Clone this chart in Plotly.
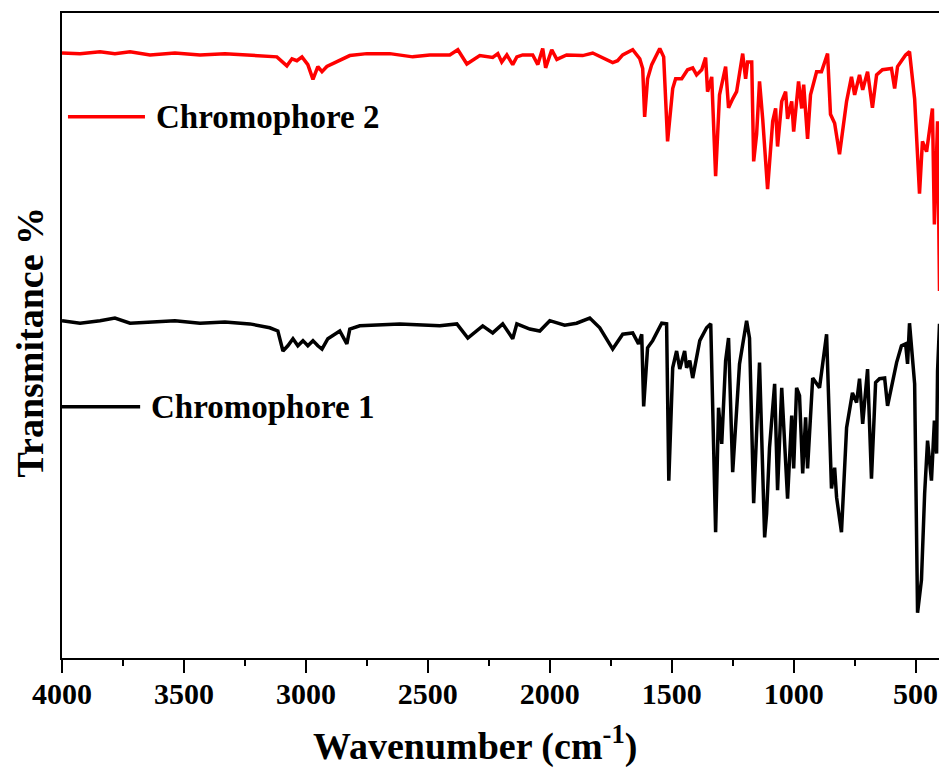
import plotly.graph_objects as go

# ---- data (wavenumber cm^-1, transmittance a.u.) ----
wn_c2 = [4000, 3926, 3844, 3783, 3721, 3639, 3537, 3434, 3332, 3230, 3119, 3078, 3057, 3037, 3016,
         2992, 2971, 2951, 2934, 2914, 2873, 2820, 2750, 2656, 2562, 2492, 2410, 2377, 2340, 2287,
         2234, 2213, 2197, 2176, 2152, 2135, 2111, 2070, 2049, 2029, 2017, 1992, 1971, 1931, 1865,
         1824, 1742, 1722, 1701, 1660, 1631, 1619, 1611, 1599, 1582, 1549, 1533, 1517, 1496, 1484,
         1459, 1435, 1414, 1398, 1377, 1361, 1353, 1336, 1320, 1304, 1279, 1267, 1250, 1234, 1209,
         1197, 1189, 1172, 1164, 1152, 1140, 1127, 1107, 1086, 1074, 1066, 1049, 1033, 1025, 1008,
         1000, 980, 967, 959, 943, 931, 906, 886, 861, 849, 832, 812, 783, 763, 750,
         730, 717, 697, 677, 660, 636, 599, 586, 574, 554, 541, 525, 504, 484, 472,
         455, 443, 431, 423, 414, 410, 406, 402]
t_c2 = [93.8, 93.7, 94.0, 93.7, 94.0, 93.5, 93.8, 93.5, 93.7, 93.5, 93.2, 91.8, 92.9, 92.6, 93.2,
        92.0, 89.7, 91.7, 90.9, 91.7, 92.4, 93.4, 93.7, 93.7, 93.2, 93.5, 93.5, 94.3, 92.1, 93.4,
        93.1, 93.7, 92.4, 93.5, 92.0, 93.2, 93.5, 93.5, 92.0, 94.5, 91.5, 94.3, 92.8, 93.5, 93.4,
        93.8, 92.3, 92.6, 93.5, 94.3, 92.9, 91.4, 83.9, 89.8, 92.0, 94.5, 93.2, 80.1, 88.3, 89.8,
        89.8, 91.2, 91.5, 90.4, 91.2, 93.1, 87.8, 90.1, 74.7, 87.3, 91.7, 85.3, 86.7, 87.8, 93.7,
        89.8, 92.4, 92.4, 77.0, 81.2, 89.4, 83.6, 72.7, 83.2, 85.2, 79.3, 86.3, 87.8, 83.6, 86.3,
        81.6, 89.4, 85.2, 88.9, 80.5, 87.3, 90.9, 90.9, 93.7, 84.3, 82.9, 78.1, 86.3, 90.1, 87.3,
        90.4, 88.1, 90.9, 85.3, 90.4, 91.2, 91.4, 88.3, 91.7, 92.8, 93.5, 94.0, 86.7, 72.0, 80.1,
        78.5, 81.6, 85.2, 67.2, 81.6, 83.2, 70.8, 56.9]

wn_c1 = [4000, 3926, 3844, 3783, 3721, 3639, 3537, 3434, 3332, 3230, 3148, 3115, 3094, 3074, 3053,
         3033, 3012, 2992, 2971, 2951, 2934, 2910, 2861, 2832, 2820, 2779, 2615, 2451, 2381, 2336,
         2275, 2234, 2193, 2152, 2135, 2082, 2041, 2000, 1939, 1890, 1836, 1795, 1742, 1701, 1660,
         1636, 1623, 1615, 1599, 1578, 1541, 1521, 1512, 1496, 1480, 1467, 1447, 1439, 1426, 1414,
         1385, 1357, 1340, 1320, 1308, 1295, 1279, 1267, 1250, 1222, 1193, 1181, 1164, 1140, 1127,
         1119, 1111, 1099, 1078, 1066, 1049, 1025, 1008, 1000, 988, 976, 963, 951, 943, 922,
         894, 865, 845, 832, 824, 804, 783, 759, 742, 730, 717, 697, 681, 664, 648,
         627, 615, 595, 578, 558, 541, 533, 525, 504, 492, 476, 463, 451, 435, 423,
         414, 410, 402]
t_c1 = [52.3, 51.9, 52.3, 52.7, 51.9, 52.1, 52.3, 51.9, 52.1, 51.8, 51.2, 50.7, 47.6, 48.4, 49.5,
        48.4, 49.2, 48.4, 49.2, 48.4, 47.9, 49.5, 50.7, 48.7, 51.0, 51.5, 51.8, 51.5, 51.8, 49.6,
        51.5, 50.4, 51.8, 49.5, 51.8, 51.0, 50.7, 52.3, 51.6, 51.9, 52.7, 51.2, 47.9, 50.2, 50.4,
        48.7, 50.2, 39.0, 48.1, 49.2, 51.9, 51.8, 27.5, 45.0, 47.6, 44.8, 47.6, 45.0, 46.1, 43.4,
        49.2, 51.2, 51.8, 19.5, 38.8, 33.2, 46.1, 49.6, 28.8, 45.6, 52.3, 49.6, 24.0, 45.8, 27.5,
        18.7, 22.4, 32.6, 42.5, 26.0, 41.9, 24.7, 37.6, 29.4, 41.9, 40.7, 28.6, 37.3, 29.4, 43.4,
        41.9, 50.2, 26.3, 29.5, 24.9, 19.5, 35.7, 41.1, 39.6, 43.3, 36.3, 44.8, 27.8, 42.7, 43.3,
        43.4, 39.1, 42.5, 45.8, 48.4, 48.7, 45.6, 51.9, 42.5, 7.0, 12.1, 25.5, 33.7, 27.5, 36.8,
        31.7, 44.5, 51.8]

series_names = ["Chromophore 2", "Chromophore 1"]
series_colors = ["#ff0000", "#000000"]
x_ticks = [4000, 3500, 3000, 2500, 2000, 1500, 1000, 500]
x_minor = [3750, 3250, 2750, 2250, 1750, 1250, 750]

FONT = "Liberation Serif, Times New Roman, serif"

fig = go.Figure()
fig.add_trace(go.Scatter(x=wn_c2, y=t_c2, mode="lines", name=series_names[0],
                         line=dict(color=series_colors[0], width=3.5), showlegend=False))
fig.add_trace(go.Scatter(x=wn_c1, y=t_c1, mode="lines", name=series_names[1],
                         line=dict(color=series_colors[1], width=3.5), showlegend=False))

# in-plot legend labels (line sample + text)
legend_pos = [(0.839, 0.0068, 0.0945, 0.105), (0.3895, 0.0, 0.089, 0.099)]
for name, color, (yp, x0, x1, xt) in zip(series_names, series_colors, legend_pos):
    fig.add_shape(type="line", xref="paper", yref="paper", x0=x0, x1=x1, y0=yp, y1=yp,
                  line=dict(color=color, width=3.5))
    fig.add_annotation(xref="paper", yref="paper", x=xt, y=yp, xanchor="left", yanchor="middle",
                       text=name, showarrow=False,
                       font=dict(family=FONT, size=33, color="black", weight="bold"))

fig.add_annotation(xref="paper", yref="paper", x=-0.037, y=0.49, textangle=-90,
                   text="Transmitance %", showarrow=False, xanchor="center", yanchor="middle",
                   font=dict(family=FONT, size=38, color="black", weight="bold"))
fig.add_annotation(xref="paper", yref="paper", x=0.470, y=-0.133,
                   text="Wavenumber (cm<sup>-1</sup>)", showarrow=False,
                   xanchor="center", yanchor="middle",
                   font=dict(family=FONT, size=38, color="black", weight="bold"))

fig.update_layout(
    width=939, height=761,
    margin=dict(l=54, r=7, t=3, b=111),
    paper_bgcolor="white", plot_bgcolor="white",
    font=dict(family=FONT, color="black"),
    xaxis=dict(range=[4000, 400], tickvals=x_ticks, ticktext=[str(v) for v in x_ticks],
               ticks="outside", ticklen=13, tickwidth=2, tickcolor="black",
               ticklabelstandoff=-5,
               showline=True, linewidth=2, linecolor="black", mirror=True,
               showgrid=False, zeroline=False,
               tickfont=dict(family=FONT, size=30, color="black", weight="bold"),
               minor=dict(tickvals=x_minor, ticks="outside", ticklen=6, tickwidth=2,
                          tickcolor="black", showgrid=False)),
    yaxis=dict(range=[0, 100], showticklabels=False, ticks="",
               showline=True, linewidth=2, linecolor="black", mirror=True,
               showgrid=False, zeroline=False),
)

fig.write_html("out.html")
